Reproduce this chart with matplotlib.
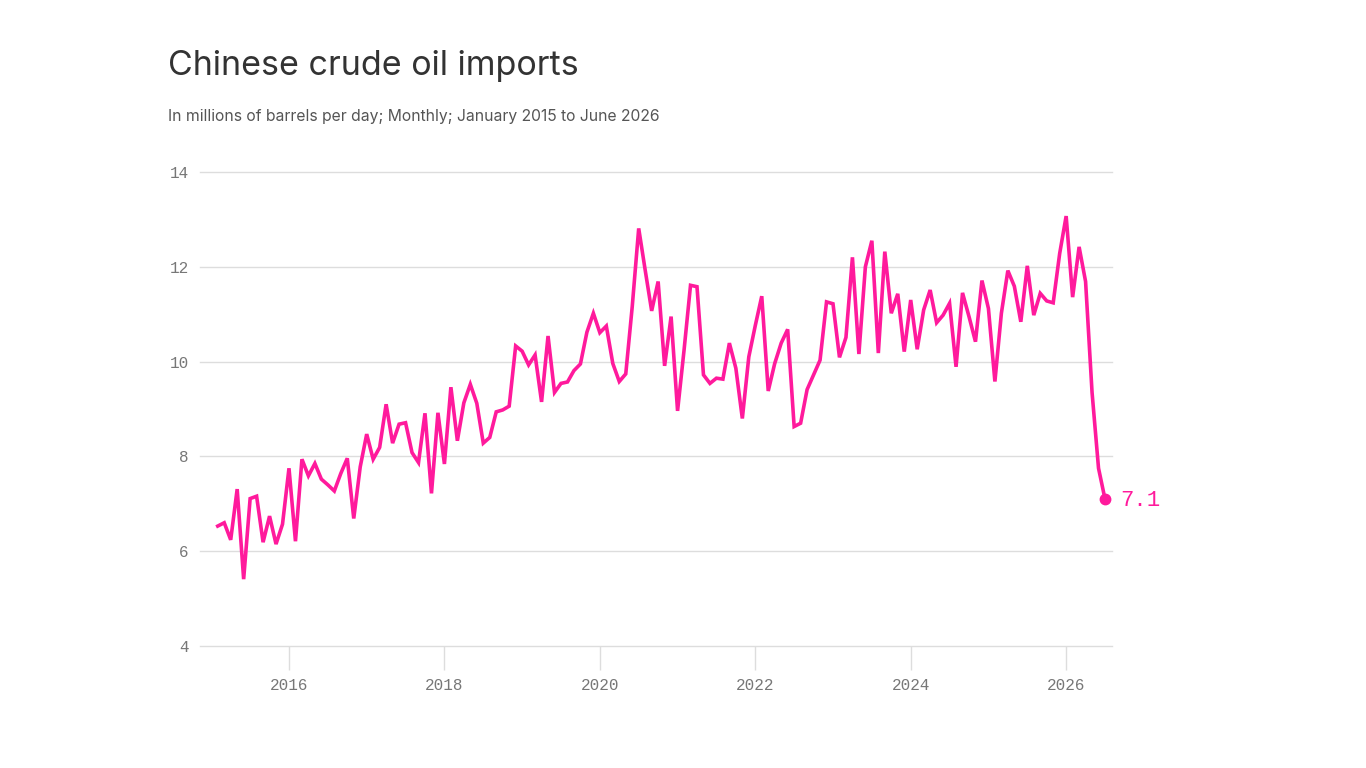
import numpy as np
import pandas as pd
import matplotlib
matplotlib.use("Agg")
import matplotlib.pyplot as plt

# monthly values, million barrels per day, Jan 2015 .. Jun 2026
imports_2015_2018 = [6.53, 6.60, 6.24, 7.31, 5.41, 7.11, 7.16, 6.19, 6.74, 6.15, 6.57, 7.75,
                     6.21, 7.94, 7.59, 7.85, 7.52, 7.40, 7.27, 7.64, 7.96, 6.69, 7.78, 8.47,
                     7.94, 8.19, 9.10, 8.28, 8.68, 8.71, 8.08, 7.87, 8.91, 7.22, 8.92, 7.84,
                     9.46, 8.33, 9.13, 9.52, 9.12, 8.28, 8.40, 8.94, 8.98, 9.06, 10.33, 10.22]
imports_2019_2022 = [9.93, 10.14, 9.15, 10.54, 9.35, 9.54, 9.57, 9.81, 9.95, 10.62, 11.02, 10.61,
                     10.75, 9.96, 9.58, 9.74, 11.16, 12.81, 11.93, 11.07, 11.69, 9.91, 10.95, 8.96,
                     10.24, 11.61, 11.58, 9.72, 9.54, 9.65, 9.63, 10.39, 9.86, 8.80, 10.10, 10.76,
                     11.38, 9.38, 9.96, 10.39, 10.68, 8.63, 8.70, 9.41, 9.72, 10.03, 11.26, 11.22]
imports_2023_2026 = [10.09, 10.51, 12.20, 10.16, 12.00, 12.55, 10.18, 12.32, 11.02, 11.43, 10.21, 11.30,
                     10.26, 11.09, 11.51, 10.82, 10.98, 11.23, 9.89, 11.45, 10.95, 10.42, 11.71, 11.12,
                     9.58, 11.02, 11.92, 11.59, 10.84, 12.02, 10.98, 11.44, 11.28, 11.24, 12.28, 13.07,
                     11.36, 12.42, 11.69, 9.35, 7.75, 7.10]
values = imports_2015_2018 + imports_2019_2022 + imports_2023_2026

year_ticks = [2016, 2018, 2020, 2022, 2024, 2026]
y_ticks = [4, 6, 8, 10, 12, 14]

dates = pd.date_range("2015-01-01", periods=len(values), freq="MS")
# points sit at the end of each month
x = dates.year + dates.month / 12.0

pink = "#ff1a9c"
mono = "Liberation Mono"

fig = plt.figure(figsize=(13.66, 7.68), dpi=100)
ax = fig.add_axes([200/1366, 1-646/768, (1112-200)/1366, (646-172)/768])

ax.plot(x, values, color=pink, lw=2.6, solid_joinstyle="miter", zorder=3, clip_on=False)
ax.plot(x[-1], values[-1], "o", color=pink, ms=7.5, zorder=4, clip_on=False)
ax.text(x[-1] + 0.19, values[-1] - 0.04, f"{values[-1]:.1f}", color=pink, fontsize=16,
        family=mono, va="center", ha="left")

ax.set_xlim(2014.855, 2026.59)
ax.set_ylim(4, 14)
ax.set_yticks(y_ticks)
ax.set_xticks(year_ticks)
ax.set_xticklabels([str(t) for t in year_ticks])
ax.grid(axis="y", color="#dddddd", lw=1)
ax.set_axisbelow(True)
for gl in ax.get_ygridlines():
    gl.set_clip_on(False)
for s in ax.spines.values():
    s.set_visible(False)
ax.tick_params(axis="y", length=0, pad=8, labelsize=11.5, labelcolor="#777777")
ax.tick_params(axis="x", length=17, width=1, color="#dddddd", pad=6,
               labelsize=11.5, labelcolor="#777777")
for lab in ax.get_xticklabels() + ax.get_yticklabels():
    lab.set_family(mono)

fig.text(168/1366, 1-66/768, "Chinese crude oil imports", fontsize=24.5,
         family="Inter", color="#333333", va="center", ha="left")
fig.text(168/1366, 1-117/768, "In millions of barrels per day; Monthly; January 2015 to June 2026",
         fontsize=11.3, family="Inter", color="#555555", va="center", ha="left")

fig.savefig("out.png", dpi=100, facecolor="white")
